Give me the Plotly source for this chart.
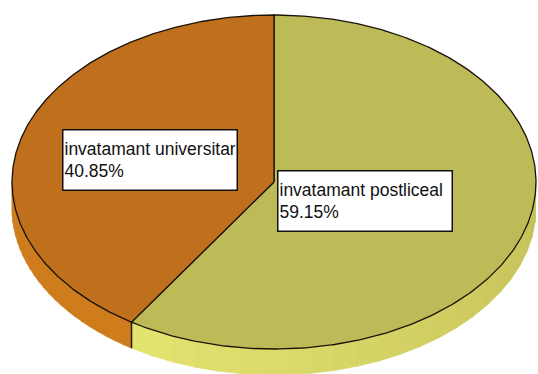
import numpy as np
import plotly.graph_objects as go

# ---- data ----
categories = ["invatamant postliceal", "invatamant universitar"]
percent_values = [59.15, 40.85]
top_colors = ["#BDBA58", "#C0701D"]
side_colors_start = [(228, 228, 112), (200, 118, 26)]
side_colors_end = [(196, 190, 88), (206, 124, 28)]

# ---- geometry of the tilted pie (screen pixel space) ----
W, H = 538, 374
cx, cy = 274, 182
rx, ry = 262, 167
depth = 26
start_deg = 90.0

def pt(theta_deg, dy=0.0):
    t = np.radians(theta_deg)
    return cx + rx * np.cos(t), cy - ry * np.sin(t) + dy

total = sum(percent_values)
spans = [v / total * 360.0 for v in percent_values]
angles = []
a = start_deg
for s in spans:
    angles.append((a, a - s))
    a -= s

fig = go.Figure()

# ---- sides (visible lower half: math angles between -180 and 0) ----
for (a0, a1), c0, c1 in zip(angles, side_colors_start, side_colors_end):
    lo, hi = min(a0, a1), max(a0, a1)
    segs = []
    for shift in (0, -360, 360):
        l, h = lo + shift, hi + shift
        l2, h2 = max(l, -180), min(h, 0)
        if h2 > l2:
            segs.append((l2, h2))
    for l2, h2 in segs:
        n = 24
        edges = np.linspace(l2, h2, n + 1)
        split_side = a1 if a1 > -180 else a1 + 360
        for i in range(n):
            th = np.linspace(edges[i], edges[i + 1] + (0.3 if i < n - 1 else 0), 12)
            mid = 0.5 * (edges[i] + edges[i + 1])
            f = abs(mid - split_side) / max(h2 - l2, 1e-9)
            f = min(max(f, 0), 1)
            col = "rgb(%d,%d,%d)" % tuple(int(round(c0[k] + (c1[k] - c0[k]) * f)) for k in range(3))
            xs_top, ys_top = pt(th)
            xs_bot, ys_bot = pt(th[::-1], depth)
            xs = np.concatenate([xs_top, xs_bot, xs_top[:1]])
            ys = np.concatenate([ys_top, ys_bot, ys_top[:1]])
            fig.add_trace(go.Scatter(x=xs, y=ys, mode="lines", fill="toself",
                                     fillcolor=col, line=dict(color=col, width=0.6),
                                     hoverinfo="skip", showlegend=False))

# divider on the side
split = angles[0][1]
sx, sy = pt(split)
fig.add_trace(go.Scatter(x=[sx, sx], y=[sy, sy + depth], mode="lines",
                         line=dict(color="#2a1a08", width=1.5),
                         hoverinfo="skip", showlegend=False))

# ---- top faces ----
for (a0, a1), col in zip(angles, top_colors):
    th = np.linspace(a0, a1, 300)
    xs, ys = pt(th)
    xs = np.concatenate([[cx], xs, [cx]])
    ys = np.concatenate([[cy], ys, [cy]])
    fig.add_trace(go.Scatter(x=xs, y=ys, mode="lines", fill="toself",
                             fillcolor=col, line=dict(color="#1a1208", width=1.3),
                             hoverinfo="skip", showlegend=False))

# ---- labels ----
label_pos = [(277, 170), (62, 129)]
for cat, v, (lx, ly) in zip(categories, percent_values, label_pos):
    fig.add_annotation(x=lx, y=ly, xref="x", yref="y", xanchor="left", yanchor="top",
                       text=f"{cat}<br>{v:.2f}%", showarrow=False, align="left",
                       valign="middle", width=171, height=57,
                       font=dict(family="Liberation Sans, Arial, sans-serif",
                                 size=17.5, color="#111111"),
                       bgcolor="white", bordercolor="#111111", borderwidth=1.5, borderpad=1)

fig.update_layout(width=W, height=H, margin=dict(l=0, r=0, t=0, b=0),
                  paper_bgcolor="white", plot_bgcolor="white",
                  xaxis=dict(range=[0, W], visible=False, fixedrange=True),
                  yaxis=dict(range=[H, 0], visible=False, fixedrange=True))

fig.write_html("out.html", config={"displayModeBar": False})
